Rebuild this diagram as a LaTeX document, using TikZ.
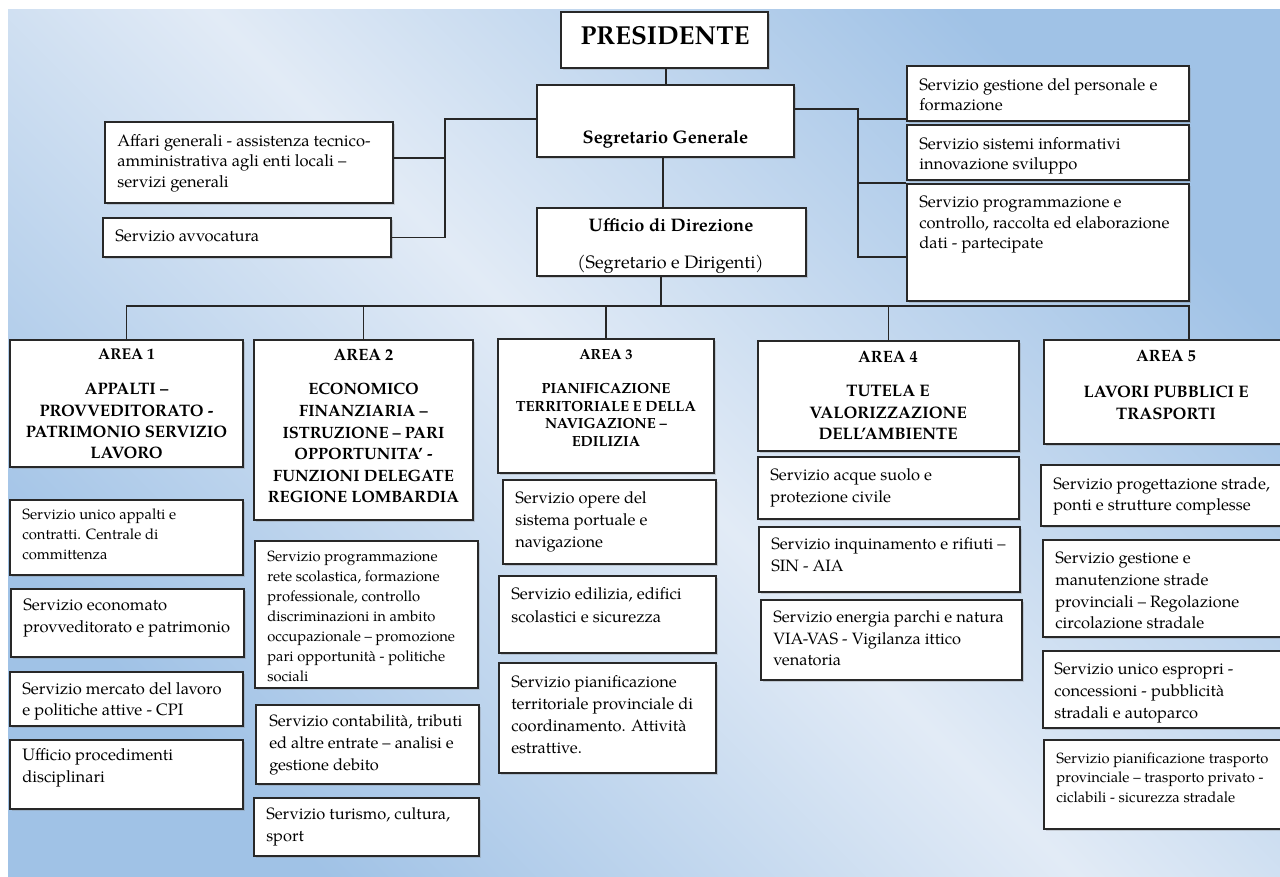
\documentclass[tikz,border=0pt]{standalone}
\usepackage{fontspec}
\setmainfont{TeX Gyre Pagella}
\usetikzlibrary{fit,shadows}
\definecolor{bgdark}{RGB}{160,194,230}
\definecolor{bglight}{RGB}{226,235,246}
\definecolor{edgecol}{RGB}{40,40,40}
\newcommand\bx[5]{\coordinate (#1-a) at (#2,#3); \coordinate (#1-b) at (#4,#5); \node[box, fit=(#1-a)(#1-b)] (#1) {};}
\newcommand\fsz[2]{\fontsize{#1}{#2}\selectfont}
\begin{document}
\begin{tikzpicture}[x=0.75pt,y=-0.75pt,
  box/.style={draw=edgecol, line width=0.9pt, fill=white, inner sep=0pt,
    drop shadow={shadow xshift=1.2pt, shadow yshift=-1.2pt, opacity=0.3}},
  txt/.style={inner sep=0pt, align=left, anchor=north west, text=black},
  hd/.style={inner sep=0pt, align=center, anchor=north, text=black},
  con/.style={draw=black!85, line width=0.9pt}]
\useasboundingbox (0,0) rectangle (1280,877);
\fill[white] (0,0) rectangle (1280,877);
\shade[left color=bgdark, right color=bgdark, middle color=bglight, shading angle=-45] (8,10) rectangle (1280,877);

% helper coordinates
\coordinate (lj) at (445,0);
\coordinate (rj) at (858,0);
\coordinate (bus) at (0,306);
\coordinate (a5x) at (1189,0);
\coordinate (pv) at (666,0);
\coordinate (sv) at (663,0);
\coordinate (uv) at (661,0);
\coordinate (ly) at (0,119);
\coordinate (ay) at (0,158);
\coordinate (ry) at (0,109);
\coordinate (r1y) at (0,119);
\coordinate (r2y) at (0,183);
\coordinate (r3y) at (0,257);

% boxes
\bx{pres}{561}{12}{768}{68}
\bx{seg}{537}{85}{794}{157}
\bx{ud}{537}{208}{806}{276}
\bx{aff}{105}{122}{393}{203}
\bx{avv}{103}{218}{391}{257}
\bx{r1}{907}{66}{1189}{121}
\bx{r2}{907}{125}{1189}{180}
\bx{r3}{907}{184}{1189}{301}
\bx{a1}{10}{340}{243}{467}
\bx{a2}{254}{340}{473}{520}
\bx{a3}{498}{339}{714}{473}
\bx{a4}{758}{341}{1019}{451}
\bx{a5}{1044}{340}{1286}{444}
\bx{a1s1}{10}{500}{243}{575}
\bx{a1s2}{11}{589}{244}{657}
\bx{a1s3}{10}{672}{243}{726}
\bx{a1s4}{10}{740}{243}{809}
\bx{a2s1}{255}{541}{478}{688}
\bx{a2s2}{256}{705}{479}{784}
\bx{a2s3}{254}{798}{479}{856}
\bx{a3s1}{503}{480}{716}{564}
\bx{a3s2}{499}{576}{716}{653}
\bx{a3s3}{499}{663}{716}{773}
\bx{a4s1}{758}{457}{1019}{519}
\bx{a4s2}{759}{527}{1020}{592}
\bx{a4s3}{761}{600}{1022}{680}
\bx{a5s1}{1041}{465}{1286}{526}
\bx{a5s2}{1043}{540}{1286}{637}
\bx{a5s3}{1043}{651}{1286}{728}
\bx{a5s4}{1044}{740}{1286}{829}

% connectors
\draw[con] (pres.south -| pv) -- (seg.north -| pv);
\draw[con] (seg.south -| sv) -- (ud.north -| sv);
\draw[con] (ud.south -| uv) -- (bus -| uv);
\draw[con] (a1.north) -- (a1.north |- bus) -- (bus -| a5x) -- (a5.north -| a5x);
\draw[con] (a2.north) -- (a2.north |- bus);
\draw[con] (a3.north) -- (a3.north |- bus);
\draw[con] (a4.north) -- (a4.north |- bus);
\draw[con] (seg.west |- ly) -- (lj |- ly) -- (lj |- avv.east) -- (avv.east);
\draw[con] (aff.east |- ay) -- (lj |- ay);
\draw[con] (seg.east |- ry) -- (rj |- ry) -- (rj |- r3y) -- (r3.west |- r3y);
\draw[con] (rj |- r1y) -- (r1.west |- r1y);
\draw[con] (rj |- r2y) -- (r2.west |- r2y);

% texts top
\node[hd, font=\bfseries\fsz{19.5}{23}] (pres-t) at (665,26) {PRESIDENTE};
\node[hd, font=\bfseries\fsz{13.6}{16}] (seg-t) at (665.5,130.1) {Segretario Generale};
\node[hd, font=\bfseries\fsz{13.6}{16}] (ud-t) at (671,218.1) {Ufficio di Direzione};
\node[hd, font=\fsz{13.5}{16}] (ud-s) at (670.5,255.2) {(Segretario e Dirigenti)};
\node[txt, font=\fsz{12.4}{15.4}] (aff-t) at (117,133.8) {Affari generali - assistenza tecnico-\\amministrativa agli enti locali –\\servizi generali};
\node[txt, font=\fsz{12.4}{15.4}] (avv-t) at (115,229.8) {Servizio avvocatura};
\node[txt, font=\fsz{12.4}{15.4}] (r1-t) at (919,77.8) {Servizio gestione del personale e\\formazione};
\node[txt, font=\fsz{12.4}{15.4}] (r2-t) at (919,136.8) {Servizio sistemi informativi\\innovazione sviluppo};
\node[txt, font=\fsz{12.4}{15.4}] (r3-t) at (919,195.8) {Servizio programmazione e\\controllo, raccolta ed elaborazione\\dati - partecipate};

% area headings
\node[hd, font=\bfseries\fsz{11.7}{13}] (a1-h) at (126.5,348.6) {AREA 1};
\node[hd, font=\bfseries\fsz{12.45}{16}] (a1-t) at (126.5,383.3) {APPALTI –\\PROVVEDITORATO -\\PATRIMONIO SERVIZIO\\LAVORO};
\node[hd, font=\bfseries\fsz{12.3}{13}] (a2-h) at (363.5,349.3) {AREA 2};
\node[hd, font=\bfseries\fsz{12.3}{16.2}] (a2-t) at (363.5,383.3) {ECONOMICO\\FINANZIARIA –\\ISTRUZIONE – PARI\\OPPORTUNITA’ -\\FUNZIONI DELEGATE\\REGIONE LOMBARDIA};
\node[hd, font=\bfseries\fsz{11}{12}] (a3-h) at (606,348.9) {AREA 3};
\node[hd, font=\bfseries\fsz{11}{13.3}] (a3-t) at (606,382.9) {PIANIFICAZIONE\\TERRITORIALE E DELLA\\NAVIGAZIONE –\\EDILIZIA};
\node[hd, font=\bfseries\fsz{12.3}{13}] (a4-h) at (888,351.3) {AREA 4};
\node[hd, font=\bfseries\fsz{12.5}{16.1}] (a4-t) at (888,385.2) {TUTELA E\\VALORIZZAZIONE\\DELL’AMBIENTE};
\node[hd, font=\bfseries\fsz{12.3}{13}] (a5-h) at (1166,350.3) {AREA 5};
\node[hd, font=\bfseries\fsz{12.5}{16.5}] (a5-t) at (1166,385.2) {LAVORI PUBBLICI E\\TRASPORTI};

% area services
\node[txt, font=\fsz{11.1}{15}] (a1s1-t) at (22,508.4) {Servizio unico appalti e\\contratti. Centrale di\\committenza};
\node[txt, font=\fsz{12.4}{16.5}] (a1s2-t) at (23,598.7) {Servizio economato\\provveditorato e patrimonio};
\node[txt, font=\fsz{12.4}{15.75}] (a1s3-t) at (22,682.7) {Servizio mercato del lavoro\\e politiche attive - CPI};
\node[txt, font=\fsz{12.4}{16.5}] (a1s4-t) at (22,747.7) {Ufficio procedimenti\\disciplinari};
\node[txt, font=\fsz{11.1}{15}] (a2s1-t) at (267,550.4) {Servizio programmazione\\rete scolastica, formazione\\professionale, controllo\\discriminazioni in ambito\\occupazionale – promozione\\pari opportunità - politiche\\sociali};
\node[txt, font=\fsz{12.3}{16.5}] (a2s2-t) at (269,714.8) {Servizio contabilità, tributi\\ed altre entrate – analisi e\\gestione debito};
\node[txt, font=\fsz{12.3}{16.5}] (a2s3-t) at (266,807.8) {Servizio turismo, cultura,\\sport};
\node[txt, font=\fsz{12.35}{16.5}] (a3s1-t) at (515,490.8) {Servizio opere del\\sistema portuale e\\navigazione};
\node[txt, font=\fsz{12.4}{17.25}] (a3s2-t) at (511,586.8) {Servizio edilizia, edifici\\scolastici e sicurezza};
\node[txt, font=\fsz{12.35}{16.5}] (a3s3-t) at (511,674.8) {Servizio pianificazione\\territoriale provinciale di\\coordinamento. Attività\\estrattive.};
\node[txt, font=\fsz{12.35}{16.5}] (a4s1-t) at (770,467.8) {Servizio acque suolo e\\protezione civile};
\node[txt, font=\fsz{12.3}{16.5}] (a4s2-t) at (771,536.8) {Servizio inquinamento e rifiuti –\\SIN - AIA};
\node[txt, font=\fsz{12.3}{16.1}] (a4s3-t) at (773,610.8) {Servizio energia parchi e natura\\VIA-VAS - Vigilanza ittico\\venatoria};
\node[txt, font=\fsz{12.35}{15.75}] (a5s1-t) at (1053,476.8) {Servizio progettazione strade,\\ponti e strutture complesse};
\node[txt, font=\fsz{12.35}{16.3}] (a5s2-t) at (1055,551.8) {Servizio gestione e\\manutenzione strade\\provinciali – Regolazione\\circolazione stradale};
\node[txt, font=\fsz{12.35}{16.5}] (a5s3-t) at (1054,662.8) {Servizio unico espropri -\\concessioni - pubblicità\\stradali e autoparco};
\node[txt, font=\fsz{11.1}{14.6}] (a5s4-t) at (1056,752.4) {Servizio pianificazione trasporto\\provinciale – trasporto privato -\\ciclabili - sicurezza stradale};
\end{tikzpicture}
\end{document}
